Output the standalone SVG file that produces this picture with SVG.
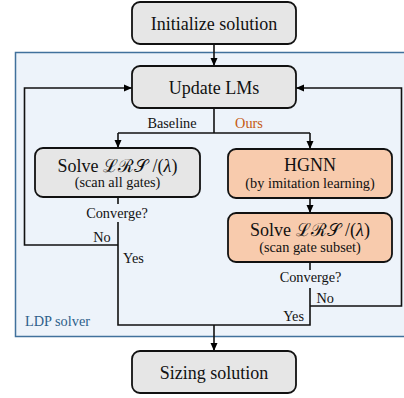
<svg xmlns="http://www.w3.org/2000/svg" width="404" height="398" viewBox="0 0 404 398">
<defs>
<marker id="ah" viewBox="0 0 8 8" refX="8" refY="4" markerWidth="8" markerHeight="8" markerUnits="userSpaceOnUse" orient="auto">
<path d="M0,0.5 L8,4 L0,7.5 Z" fill="#000"/>
</marker>
</defs>
<style>
text{font-family:"Liberation Serif","DejaVu Serif",serif;fill:#111}
.big{font-size:18px}
.sm{font-size:14.3px}
.gray{fill:#e6e6e6;stroke:#111;stroke-width:1.8}
.org{fill:#f8cbad;stroke:#111;stroke-width:1.8}
.ln{fill:none;stroke:#111;stroke-width:1.6}
</style>
<rect width="404" height="398" fill="#fff"/>
<g id="ldp">
<rect x="15.5" y="52.5" width="400" height="284" fill="#edf3fa" stroke="#41719c" stroke-width="1.5"/>
<text class="sm" x="25" y="326" style="fill:#2e5f8a">LDP solver</text>
</g>
<g id="connectors">
<line class="ln" x1="214" y1="44" x2="214" y2="66" marker-end="url(#ah)"/>
<polyline class="ln" points="214,108 214,133"/>
<polyline class="ln" points="118,133 310,133"/>
<line class="ln" x1="118" y1="133" x2="118" y2="148" marker-end="url(#ah)"/>
<line class="ln" x1="310" y1="133" x2="310" y2="149" marker-end="url(#ah)"/>
<line class="ln" x1="310" y1="198" x2="310" y2="213" marker-end="url(#ah)"/>
<line class="ln" x1="118" y1="197" x2="118" y2="204"/>
<polyline class="ln" points="118,222 118,325 310,325 310,288"/>
<line class="ln" x1="310" y1="262" x2="310" y2="270"/>
<polyline class="ln" points="118,245 24.5,245 24.5,88 132,88" marker-end="url(#ah)"/>
<polyline class="ln" points="310,306 401.5,306 401.5,88 296,88" marker-end="url(#ah)"/>
<line class="ln" x1="214" y1="325" x2="214" y2="351" marker-end="url(#ah)"/>
<text class="sm" x="172" y="127.5" text-anchor="middle">Baseline</text>
<text class="sm" x="249" y="127.5" text-anchor="middle" style="fill:#c55a11">Ours</text>
<text class="sm" x="117" y="217.5" text-anchor="middle">Converge?</text>
<text class="sm" x="102" y="242" text-anchor="middle">No</text>
<text class="sm" x="123" y="262.5">Yes</text>
<text class="sm" x="310.5" y="282" text-anchor="middle">Converge?</text>
<text class="sm" x="316.5" y="302.5">No</text>
<text class="sm" x="304" y="321" text-anchor="end">Yes</text>
</g>
<g id="init">
<rect class="gray" x="132" y="2" width="164" height="42" rx="8"/>
<text class="big" x="214" y="30" text-anchor="middle">Initialize solution</text>
</g>
<g id="update">
<rect class="gray" x="132" y="66" width="164" height="42" rx="8"/>
<text class="big" x="214" y="93.5" text-anchor="middle">Update LMs</text>
</g>
<g id="solve-base">
<rect class="gray" x="35" y="148" width="165" height="49" rx="8"/>
<text class="big" x="117.5" y="171.5" text-anchor="middle">Solve ℒℛ𝒮 /(<tspan font-style="italic">λ</tspan>)</text>
<text class="sm" x="117.5" y="187" text-anchor="middle">(scan all gates)</text>
</g>
<g id="hgnn">
<rect class="org" x="228" y="149" width="164" height="49" rx="8"/>
<text class="big" x="310" y="171" text-anchor="middle">HGNN</text>
<text class="sm" x="310" y="188" text-anchor="middle">(by imitation learning)</text>
</g>
<g id="solve-ours">
<rect class="org" x="228" y="213" width="164" height="49" rx="8"/>
<text class="big" x="310" y="235.5" text-anchor="middle">Solve ℒℛ𝒮 /(<tspan font-style="italic">λ</tspan>)</text>
<text class="sm" x="310" y="252" text-anchor="middle">(scan gate subset)</text>
</g>
<g id="sizing">
<rect class="gray" x="132" y="351" width="164" height="42" rx="8"/>
<text class="big" x="214" y="378.5" text-anchor="middle">Sizing solution</text>
</g>
</svg>
